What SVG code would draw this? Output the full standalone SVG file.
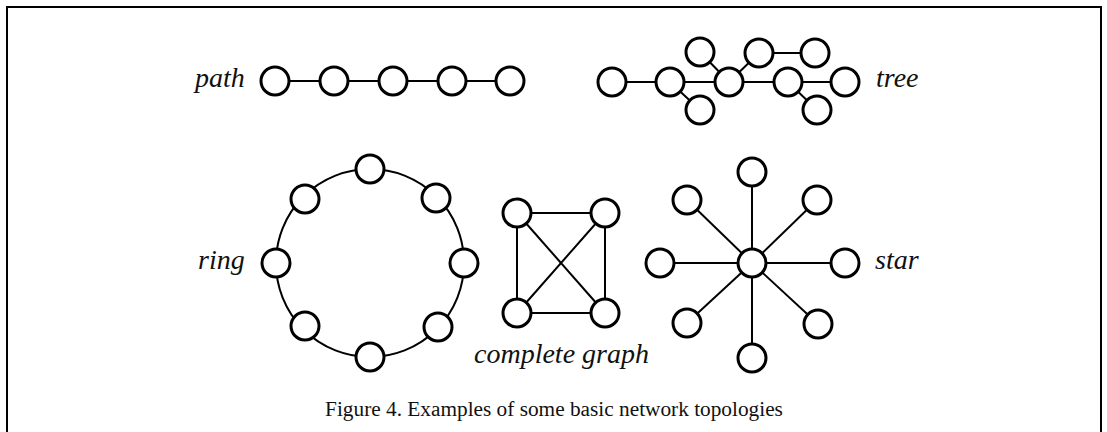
<svg xmlns="http://www.w3.org/2000/svg" width="1107" height="432" viewBox="0 0 1107 432">
<style>
.n{fill:#fff;stroke:#000;stroke-width:3}
.e{stroke:#000;stroke-width:2;fill:none}
.lbl{font-family:"Liberation Serif",serif;font-style:italic;font-size:28px;fill:#111}
.cap{font-family:"Liberation Serif",serif;font-size:21.3px;fill:#111}
</style>
<rect x="0" y="0" width="1107" height="432" fill="#fff"/>
<rect x="7" y="7" width="1094" height="440" fill="none" stroke="#000" stroke-width="2"/>
<g id="connectors">
  <!-- path -->
  <line class="e" x1="275" y1="81" x2="510" y2="81"/>
  <!-- tree -->
  <line class="e" x1="612" y1="82" x2="845" y2="82"/>
  <line class="e" x1="670" y1="82" x2="700" y2="110"/>
  <line class="e" x1="700" y1="52" x2="729" y2="82"/>
  <line class="e" x1="729" y1="82" x2="759" y2="53"/>
  <line class="e" x1="759" y1="53" x2="815" y2="53"/>
  <line class="e" x1="788" y1="82" x2="817" y2="110"/>
  <!-- ring -->
  <circle class="e" cx="370" cy="263" r="94"/>
  <!-- complete graph -->
  <line class="e" x1="517" y1="213" x2="605" y2="213"/>
  <line class="e" x1="517" y1="313" x2="605" y2="313"/>
  <line class="e" x1="517" y1="213" x2="517" y2="313"/>
  <line class="e" x1="605" y1="213" x2="605" y2="313"/>
  <line class="e" x1="517" y1="213" x2="605" y2="313"/>
  <line class="e" x1="605" y1="213" x2="517" y2="313"/>
  <!-- star -->
  <line class="e" x1="752" y1="263" x2="752" y2="172"/>
  <line class="e" x1="752" y1="263" x2="752" y2="358"/>
  <line class="e" x1="752" y1="263" x2="660" y2="263"/>
  <line class="e" x1="752" y1="263" x2="845" y2="263"/>
  <line class="e" x1="752" y1="263" x2="687" y2="200"/>
  <line class="e" x1="752" y1="263" x2="817" y2="200"/>
  <line class="e" x1="752" y1="263" x2="687" y2="323"/>
  <line class="e" x1="752" y1="263" x2="818" y2="324"/>
</g>
<g id="path">
  <text class="lbl" x="195" y="87">path</text>
  <circle class="n" cx="275" cy="81" r="14"/>
  <circle class="n" cx="334" cy="81" r="14"/>
  <circle class="n" cx="393" cy="81" r="14"/>
  <circle class="n" cx="452" cy="81" r="14"/>
  <circle class="n" cx="510" cy="81" r="14"/>
</g>
<g id="tree">
  <circle class="n" cx="612" cy="82" r="14"/>
  <circle class="n" cx="670" cy="82" r="14"/>
  <circle class="n" cx="700" cy="52" r="14"/>
  <circle class="n" cx="700" cy="110" r="14"/>
  <circle class="n" cx="729" cy="82" r="14"/>
  <circle class="n" cx="759" cy="53" r="14"/>
  <circle class="n" cx="815" cy="53" r="14"/>
  <circle class="n" cx="788" cy="82" r="14"/>
  <circle class="n" cx="845" cy="82" r="14"/>
  <circle class="n" cx="817" cy="110" r="14"/>
  <text class="lbl" x="876" y="87">tree</text>
</g>
<g id="ring">
  <text class="lbl" x="198" y="269">ring</text>
  <circle class="n" cx="370" cy="169" r="14"/>
  <circle class="n" cx="436" cy="198" r="14"/>
  <circle class="n" cx="464" cy="263" r="14"/>
  <circle class="n" cx="438" cy="327" r="14"/>
  <circle class="n" cx="370" cy="357" r="14"/>
  <circle class="n" cx="305" cy="326" r="14"/>
  <circle class="n" cx="276" cy="263" r="14"/>
  <circle class="n" cx="305" cy="199" r="14"/>
</g>
<g id="complete-graph">
  <circle class="n" cx="517" cy="213" r="14"/>
  <circle class="n" cx="605" cy="213" r="14"/>
  <circle class="n" cx="517" cy="313" r="14"/>
  <circle class="n" cx="605" cy="313" r="14"/>
  <text class="lbl" x="474" y="363">complete graph</text>
</g>
<g id="star">
  <circle class="n" cx="752" cy="263" r="14"/>
  <circle class="n" cx="752" cy="172" r="14"/>
  <circle class="n" cx="752" cy="358" r="14"/>
  <circle class="n" cx="660" cy="263" r="14"/>
  <circle class="n" cx="845" cy="263" r="14"/>
  <circle class="n" cx="687" cy="200" r="14"/>
  <circle class="n" cx="817" cy="200" r="14"/>
  <circle class="n" cx="687" cy="323" r="14"/>
  <circle class="n" cx="818" cy="324" r="14"/>
  <text class="lbl" x="875" y="269">star</text>
</g>
<g id="caption">
  <text class="cap" x="554" y="416" text-anchor="middle">Figure 4. Examples of some basic network topologies</text>
</g>
</svg>
